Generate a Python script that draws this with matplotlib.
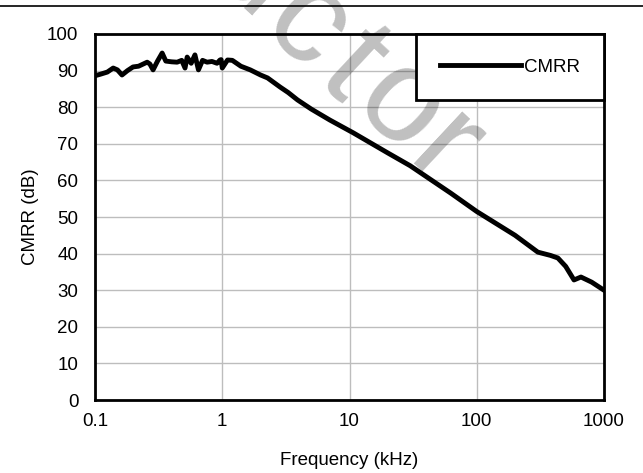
import matplotlib
matplotlib.use("Agg")
import matplotlib.pyplot as plt
from matplotlib.lines import Line2D

plt.rcParams['font.family'] = ['Liberation Sans', 'DejaVu Sans']

freq_khz = [0.1, 0.11, 0.125, 0.139, 0.15, 0.163, 0.18, 0.199, 0.22, 0.257, 0.27, 0.286,
            0.31, 0.337, 0.36, 0.40, 0.442, 0.48, 0.51, 0.53, 0.57, 0.61, 0.65, 0.70,
            0.76, 0.83, 0.91, 0.96, 0.98, 1.0, 1.1, 1.2, 1.4, 1.66, 2.0, 2.27, 2.85,
            3.3, 3.9, 5.0, 7.0, 10.7, 20, 30, 62.6, 100, 200, 302, 380, 434, 500,
            581, 659, 800, 1000]
cmrr_db = [88.6, 89.0, 89.6, 90.7, 90.2, 88.8, 90.0, 91.0, 91.2, 92.3, 91.8, 90.2,
           92.6, 94.8, 92.6, 92.4, 92.3, 92.8, 90.7, 93.7, 92.0, 94.3, 90.2, 92.8,
           92.3, 92.5, 92.0, 92.9, 93.0, 90.7, 92.9, 92.8, 91.2, 90.2, 88.8, 88.0,
           85.5, 84.0, 82.0, 79.5, 76.5, 73.0, 67.5, 64.0, 56.5, 51.5, 45.0, 40.4,
           39.5, 38.8, 36.5, 32.8, 33.6, 32.2, 30.0]

x_ticks = [0.1, 1, 10, 100, 1000]
x_tick_labels = ['0.1', '1', '10', '100', '1000']
y_ticks = list(range(0, 101, 10))

watermark_letters = ['u', 'c', 't', 'o', 'r']

W, H = 643, 473
fig = plt.figure(figsize=(W / 100, H / 100), dpi=100)
ax = fig.add_axes([95 / W, 1 - 400 / H, 509 / W, 366 / H])

# watermark letters (baseline anchor points in pixels)
wm_pos = [(228, 2), (282, 53), (328, 93), (376, 134), (420, 178)]
for ch, (px, py) in zip(watermark_letters, wm_pos):
    ax.text(px / W, 1 - py / H, ch, transform=fig.transFigure, fontsize=96,
            color='black', alpha=0.25, rotation=-43, rotation_mode='anchor',
            ha='center', va='baseline', zorder=1, clip_on=False)

ax.plot(freq_khz, cmrr_db, color='black', lw=3.5, label='CMRR', zorder=3,
        solid_joinstyle='round')
ax.set_xscale('log')
ax.set_xlim(0.1, 1000)
ax.set_ylim(0, 100)
ax.set_xticks(x_ticks)
ax.set_xticklabels(x_tick_labels)
ax.set_yticks(y_ticks)
ax.minorticks_off()
ax.tick_params(axis='both', length=0, labelsize=13.5)
ax.tick_params(axis='x', pad=9)
ax.tick_params(axis='y', pad=12)
ax.set_axisbelow(True)
ax.grid(True, color='#bdbdbd', lw=1.0)
for s in ax.spines.values():
    s.set_linewidth(2.0)
    s.set_color('black')
    s.set_zorder(4)
ax.set_xlabel('Frequency (kHz)', fontsize=13.5, labelpad=16)
ax.set_ylabel('CMRR (dB)', fontsize=13.5, labelpad=6)

leg = ax.legend(loc='upper right', bbox_to_anchor=(1, 1), borderaxespad=0,
                fancybox=False, framealpha=1, edgecolor='black',
                borderpad=1.3, handlelength=4.3, handletextpad=0.15, fontsize=13.5)
leg.get_frame().set_linewidth(2.0)
leg.set_zorder(5)

fig.add_artist(Line2D([0, 1], [1 - 6 / H, 1 - 6 / H], color='black', lw=1.2,
                      transform=fig.transFigure))

fig.savefig('out.png', dpi=100)
